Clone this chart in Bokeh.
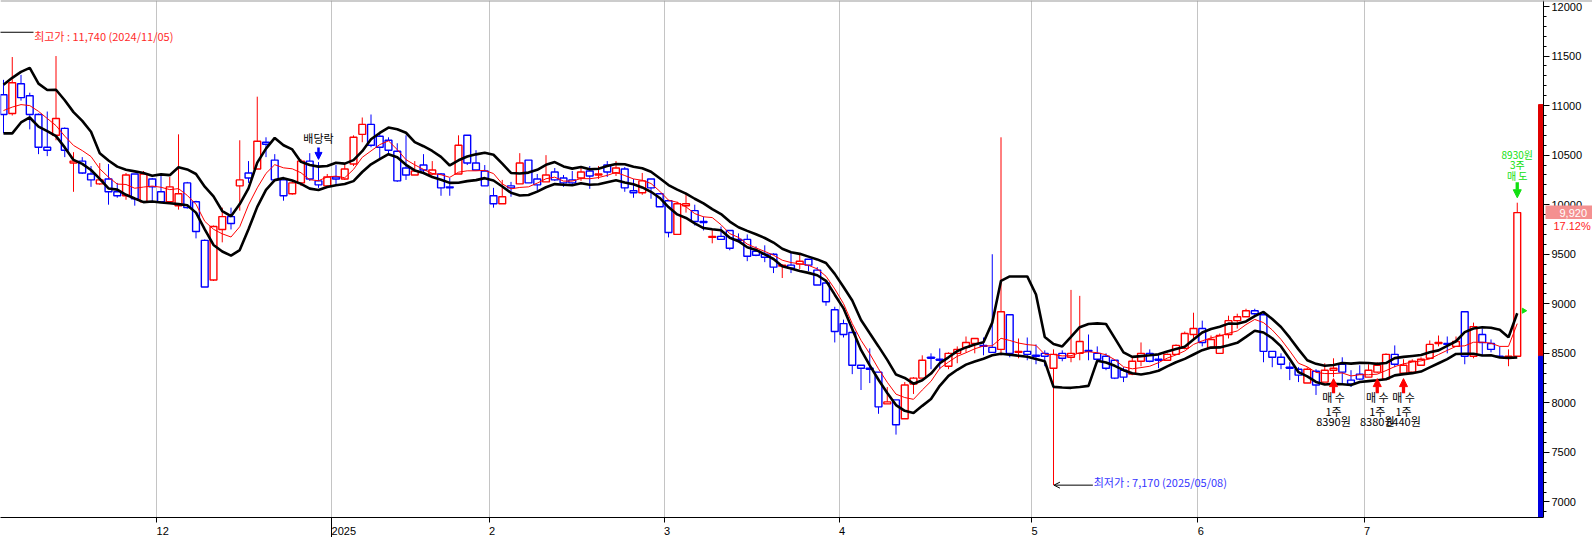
import numpy as np
import pandas as pd
from bokeh.plotting import figure
from bokeh.models import (ColumnDataSource, FixedTicker, SingleIntervalTicker, LinearAxis,
                          Span, Arrow, NormalHead, OpenHead)
from bokeh.core.properties import value
from bokeh.embed import file_html
from bokeh.resources import INLINE

# ---------------- data ----------------
month_labels = ["12", "2025", "2", "3", "4", "5", "6", "7"]
month_days = [18, 20, 18, 20, 20, 22, 19, 19, 18]   # trading sessions: Nov(visible), Dec .. Jul

open_ = [11110, 10920, 11220, 11100, 10910, 10580, 10700, 10770, 10420, 10440,
         10310, 10210, 10260, 10130, 10090, 10310, 10030, 10260, 10130, 10030,
         9990, 10220, 10030, 9640, 9240, 9750, 9880, 10190, 10320, 10360,
         10630, 10450, 10250, 10110, 10220, 10440, 10240, 10190, 10280, 10260,
         10410, 10710, 10810, 10690, 10650, 10540, 10370, 10300, 10400, 10310,
         10310, 10180, 10310, 10700, 10420, 10340, 10090, 10010, 10190, 10210,
         10450, 10260, 10230, 10330, 10270, 10250, 10270, 10340, 10300, 10400,
         10320, 10360, 10140, 10120, 10260, 10110, 10040, 9700, 9990, 9940,
         9830, 9670, 9680, 9740, 9650, 9650, 9530, 9500, 9500, 9380,
         9390, 9400, 9450, 9340, 9210, 8940, 8800, 8710, 8380, 8350,
         8310, 7990, 8030, 7840, 8190, 8250, 8460, 8440, 8370, 8500,
         8560, 8600, 8580, 8560, 8540, 8890, 8510, 8520, 8480, 8500,
         8350, 8500, 8460, 8500, 8530, 8500, 8470, 8430, 8330, 8290,
         8420, 8500, 8440, 8430, 8490, 8550, 8690, 8750, 8560, 8500,
         8690, 8830, 8870, 8930, 8890, 8520, 8460, 8360, 8340, 8200,
         8320, 8210, 8330, 8390, 8230, 8290, 8260, 8310, 8240, 8490,
         8300, 8310, 8380, 8450, 8600, 8600, 8570, 8920, 8470, 8690,
         8600, 8470, 8460, 8470]
high = [11260, 11490, 11310, 11130, 10920, 10940, 11500, 10780, 10530, 10480,
        10390, 10420, 10410, 10220, 10320, 10310, 10340, 10270, 10290, 10280,
        10710, 10230, 10040, 9650, 9790, 9970, 9970, 10650, 10440, 11090,
        10680, 10510, 10280, 10230, 10460, 10520, 10430, 10310, 10400, 10410,
        10700, 10880, 10910, 10720, 10680, 10620, 10700, 10440, 10510, 10440,
        10320, 10270, 10700, 10700, 10550, 10400, 10170, 10250, 10230, 10520,
        10450, 10310, 10500, 10370, 10300, 10340, 10390, 10390, 10390, 10440,
        10440, 10380, 10260, 10320, 10260, 10110, 10040, 10030, 10120, 10000,
        9880, 9750, 9780, 9740, 9710, 9700, 9580, 9590, 9510, 9400,
        9520, 9500, 9450, 9370, 9220, 8970, 8840, 8770, 8380, 8550,
        8310, 8160, 8030, 8210, 8260, 8480, 8500, 8550, 8510, 8570,
        8670, 8650, 8660, 9500, 10680, 8890, 8650, 8660, 8590, 8530,
        8540, 8530, 9140, 9080, 8690, 8570, 8500, 8430, 8360, 8460,
        8610, 8540, 8480, 8500, 8590, 8720, 8910, 8830, 8680, 8700,
        8880, 8900, 8950, 8950, 8910, 8520, 8500, 8410, 8360, 8360,
        8340, 8400, 8450, 8460, 8330, 8380, 8390, 8410, 8500, 8580,
        8440, 8440, 8460, 8630, 8680, 8670, 8670, 8920, 8810, 8750,
        8640, 8570, 8540, 10020]
low = [10720, 10900, 11050, 10760, 10510, 10490, 10650, 10480, 10130, 10310,
       10180, 10200, 10000, 10070, 10050, 9990, 10020, 10030, 10020, 10010,
       9950, 9960, 9660, 9170, 9230, 9620, 9750, 9940, 10220, 10360,
       10480, 10240, 10040, 10100, 10190, 10240, 10170, 10190, 10190, 10250,
       10390, 10630, 10580, 10450, 10500, 10230, 10250, 10300, 10320, 10300,
       10090, 10090, 10310, 10400, 10350, 10190, 9970, 10010, 10080, 10210,
       10220, 10140, 10230, 10240, 10180, 10190, 10240, 10160, 10260, 10280,
       10290, 10130, 10070, 10100, 10060, 9980, 9670, 9700, 9920, 9790,
       9740, 9610, 9650, 9540, 9620, 9430, 9480, 9420, 9310, 9260,
       9310, 9350, 9330, 9190, 8980, 8610, 8660, 8290, 8130, 8200,
       7890, 7990, 7680, 7840, 8090, 8250, 8340, 8340, 8340, 8400,
       8510, 8500, 8480, 8510, 8480, 8460, 8450, 8430, 8390, 8370,
       7170, 8420, 8410, 8430, 8430, 8440, 8330, 8240, 8210, 8280,
       8370, 8410, 8350, 8430, 8490, 8540, 8630, 8570, 8560, 8500,
       8650, 8750, 8870, 8870, 8410, 8360, 8340, 8230, 8210, 8200,
       8080, 8210, 8260, 8190, 8160, 8230, 8260, 8300, 8240, 8360,
       8290, 8310, 8380, 8450, 8570, 8500, 8570, 8390, 8450, 8480,
       8510, 8460, 8370, 8470]
close = [10910, 11230, 11080, 10910, 10580, 10550, 10870, 10550, 10440, 10320,
         10250, 10250, 10130, 10090, 10300, 10060, 10310, 10180, 10030, 10180,
         10110, 9970, 9730, 9170, 9780, 9880, 9810, 10250, 10270, 10640,
         10610, 10250, 10090, 10220, 10440, 10260, 10200, 10280, 10260, 10360,
         10680, 10810, 10600, 10580, 10550, 10240, 10300, 10340, 10350, 10350,
         10170, 10170, 10600, 10420, 10350, 10190, 10010, 10080, 10170, 10420,
         10220, 10200, 10300, 10250, 10220, 10220, 10330, 10290, 10310, 10330,
         10370, 10170, 10120, 10240, 10170, 9980, 9720, 10010, 10010, 9830,
         9820, 9680, 9650, 9560, 9640, 9480, 9490, 9470, 9370, 9390,
         9360, 9430, 9390, 9190, 9020, 8720, 8690, 8380, 8350, 8340,
         7960, 8010, 7780, 8180, 8250, 8430, 8450, 8430, 8500, 8540,
         8610, 8650, 8570, 8510, 8920, 8500, 8520, 8490, 8470, 8470,
         8490, 8450, 8500, 8620, 8520, 8440, 8350, 8250, 8260, 8420,
         8500, 8420, 8430, 8490, 8580, 8700, 8750, 8610, 8640, 8680,
         8830, 8870, 8930, 8900, 8520, 8460, 8390, 8350, 8280, 8340,
         8180, 8330, 8350, 8310, 8190, 8240, 8330, 8380, 8490, 8390,
         8380, 8420, 8440, 8590, 8610, 8590, 8620, 8470, 8770, 8610,
         8540, 8460, 8470, 9920]

# first 4 points of the 5-session averages (earlier sessions are off the chart)
ma_close_head = [10950, 10985, 11010, 11000]
ma_high_head = [11210, 11280, 11340, 11380]
ma_low_head = [10720, 10720, 10830, 10880]

# trade marks
buy_idx = [152, 157, 160]
buy_price = ["8390원", "8380원", "8440원"]
buy_qty = ["1주", "1주", "1주"]
sell_idx = 173
sell_price = "8930원"
sell_value = 8930
sell_qty = "3주"
ex_div_idx = 36
max_price, max_date = 11740, "2024/11/05"
min_idx, min_price, min_date = 120, 7170, "2025/05/08"
prev_close = 8470
upper_limit = 11010

# ---------------- derived ----------------
o = np.array(open_, float); h = np.array(high, float)
l = np.array(low, float); c = np.array(close, float)
n = len(c)
x = np.arange(n)


def ma5(arr, head):
    s = pd.Series(arr).rolling(5).mean().to_numpy()
    s[:4] = head
    return s


ma_c = ma5(c, ma_close_head)
ma_h = ma5(h, ma_high_head)
ma_l = ma5(l, ma_low_head)

bounds = np.cumsum(month_days)[:-1] - 0.5
month_ticks = [float(b) for b in bounds]

inc = c >= o
col = np.where(inc, "#ff0000", "#0000ff")
src = ColumnDataSource(dict(x=x, h=h, l=l, top=np.maximum(o, c), bot=np.minimum(o, c), col=col))

X0, X1 = -0.343, 181.6       # full page width
XA = 176.0                   # price axis position
Y0, Y1 = 6843.5, 12060.5

p = figure(frame_width=1592, frame_height=517, x_range=(X0, X1), y_range=(Y0, Y1),
           output_backend="svg", toolbar_location=None, y_axis_location=None,
           min_border_left=0, min_border_top=0, min_border_right=0, min_border_bottom=0,
           background_fill_color="white", border_fill_color="white")
p.outline_line_color = None

# grid
p.ygrid.grid_line_color = None
p.xgrid.ticker = FixedTicker(ticks=month_ticks)
p.xgrid.grid_line_color = "#c4c4c4"
p.xgrid.grid_line_width = 1

AX_FONT = "Liberation Sans"
# x axis (labels start at the tick, as in the source chart)
xa = p.xaxis[0]
xa.bounds = (X0, XA)
xa.ticker = FixedTicker(ticks=month_ticks)
xa.major_label_overrides = {t: "\u00a0" * (2 * len(lab)) + lab for t, lab in zip(month_ticks, month_labels)}
xa.major_tick_out = 5
xa.major_tick_in = 0
xa.minor_tick_line_color = None
xa.axis_line_color = "black"
xa.major_tick_line_color = "black"
xa.major_label_text_font = AX_FONT
xa.major_label_text_font_size = "11px"
xa.major_label_text_color = "black"
xa.major_label_standoff = 2

xb = LinearAxis(ticker=FixedTicker(ticks=[month_ticks[1]]), major_tick_in=19, major_tick_out=0,
                major_label_text_font_size="0px", major_label_standoff=0, bounds=(X0, XA),
                minor_tick_line_color=None, axis_line_color="black", major_tick_line_color="black",
                major_label_overrides={month_ticks[1]: ""})
p.add_layout(xb, "below")

# price axis
ya = LinearAxis(fixed_location=XA, ticker=SingleIntervalTicker(interval=500, num_minor_ticks=5),
                major_tick_out=6, major_tick_in=0, minor_tick_out=3, minor_tick_in=0,
                axis_line_color="black", major_tick_line_color="black", minor_tick_line_color="black",
                major_label_text_font=AX_FONT, major_label_text_font_size="11px",
                major_label_text_color="black", major_label_standoff=2)
p.add_layout(ya, "right")

# top border line
p.add_layout(Span(location=Y1, dimension="width", line_color="#9a9a9a", line_width=2))

# price-limit bar at the axis
p.quad(left=[175.43], right=[XA - 0.06], bottom=[prev_close], top=[upper_limit], color="#e00000")
p.quad(left=[175.43], right=[XA - 0.06], bottom=[Y0], top=[prev_close], color="#0000e0")

# candles
p.segment(x0="x", y0="h", x1="x", y1="l", line_color="col", line_width=1, source=src)
p.vbar(x="x", width=0.78, top="top", bottom="bot", fill_color="white", line_color="col",
       line_width=1.4, source=src)

# averages
p.line(x, ma_h, line_color="black", line_width=2.6)
p.line(x, ma_l, line_color="black", line_width=2.6)
p.line(x, ma_c, line_color="#ff0000", line_width=1)

KR = value("Noto Sans CJK KR")

# highest price note
p.segment(x0=[-1.0], y0=[max_price], x1=[3.43], y1=[max_price], line_color="black", line_width=1)
p.text(x=[3.5], y=[max_price - 40], text=[f"최고가 : {max_price:,} ({max_date})"],
       text_font=KR, text_font_size="11px", text_color="#ff2a2a",
       text_align="left", text_baseline="middle")

# lowest price note
p.add_layout(Arrow(end=OpenHead(size=6, line_color="black", line_width=1),
                   x_start=min_idx + 4.5, y_start=min_price, x_end=min_idx + 0.05, y_end=min_price,
                   line_color="black", line_width=1))
p.text(x=[min_idx + 4.6], y=[min_price + 35], text=[f"최저가 : {min_price:,} ({min_date})"],
       text_font=KR, text_font_size="11px", text_color="#3535ff",
       text_align="left", text_baseline="middle")

# ex-dividend
ed_tip = h[ex_div_idx] + 27
p.add_layout(Arrow(end=NormalHead(size=7, fill_color="#0000ff", line_color="#0000ff"),
                   x_start=ex_div_idx, y_start=ed_tip + 120, x_end=ex_div_idx, y_end=ed_tip,
                   line_color="#0000ff", line_width=2.5))
p.text(x=[ex_div_idx], y=[ed_tip + 212], text=["배당락"], text_font=KR, text_font_size="11px",
       text_color="black", text_align="center", text_baseline="middle")

# buys
BUY_TIP, BUY_TAIL = 8245, 8098
for bi in buy_idx:
    p.add_layout(Arrow(end=NormalHead(size=8, fill_color="#ff0000", line_color="#ff0000"),
                       x_start=bi, y_start=BUY_TAIL, x_end=bi, y_end=BUY_TIP,
                       line_color="#ff0000", line_width=3.3))
p.text(x=buy_idx, y=[8062] * 3, text=["매 수"] * 3, text_font=KR, text_font_size="11px",
       text_color="black", text_align="center", text_baseline="middle")
p.text(x=buy_idx, y=[7922] * 3, text=buy_qty, text_font=KR, text_font_size="11px",
       text_color="black", text_align="center", text_baseline="middle")
p.text(x=buy_idx, y=[7815] * 3, text=buy_price, text_font=KR, text_font_size="11px",
       text_color="black", text_align="center", text_baseline="middle")

# sell
GREEN = "#10e010"
s_tip = h[sell_idx] + 50
p.add_layout(Arrow(end=NormalHead(size=8, fill_color=GREEN, line_color=GREEN),
                   x_start=sell_idx, y_start=s_tip + 157, x_end=sell_idx, y_end=s_tip,
                   line_color=GREEN, line_width=3.3))
p.text(x=[sell_idx] * 3, y=[s_tip + 226, s_tip + 332, s_tip + 436], text=["매 도", sell_qty, sell_price],
       text_font=KR, text_font_size="10px", text_color=GREEN, text_align="center",
       text_baseline="middle")
p.scatter(x=[sell_idx + 0.75], y=[sell_value], marker="triangle", size=5, angle=-np.pi / 2,
          fill_color=GREEN, line_color=GREEN)

# last price box and change
last = close[-1]
chg = (last / prev_close - 1) * 100
p.quad(left=[176.23], right=[X1], bottom=[last - 64], top=[last + 72],
       fill_color="#f49090", line_color=None, level="overlay")
p.text(x=[179.4], y=[last], text=[f"{last:,}"], text_font=value(AX_FONT), text_font_size="11px",
       text_color="white", text_align="center", text_baseline="middle", level="overlay")
p.text(x=[181.4], y=[last - 140], text=[f"{chg:.2f}%"], text_font=value(AX_FONT),
       text_font_size="11px", text_color="#ff1a1a", text_align="right", text_baseline="middle",
       level="overlay")

open("out.html", "w").write(file_html(p, INLINE))
